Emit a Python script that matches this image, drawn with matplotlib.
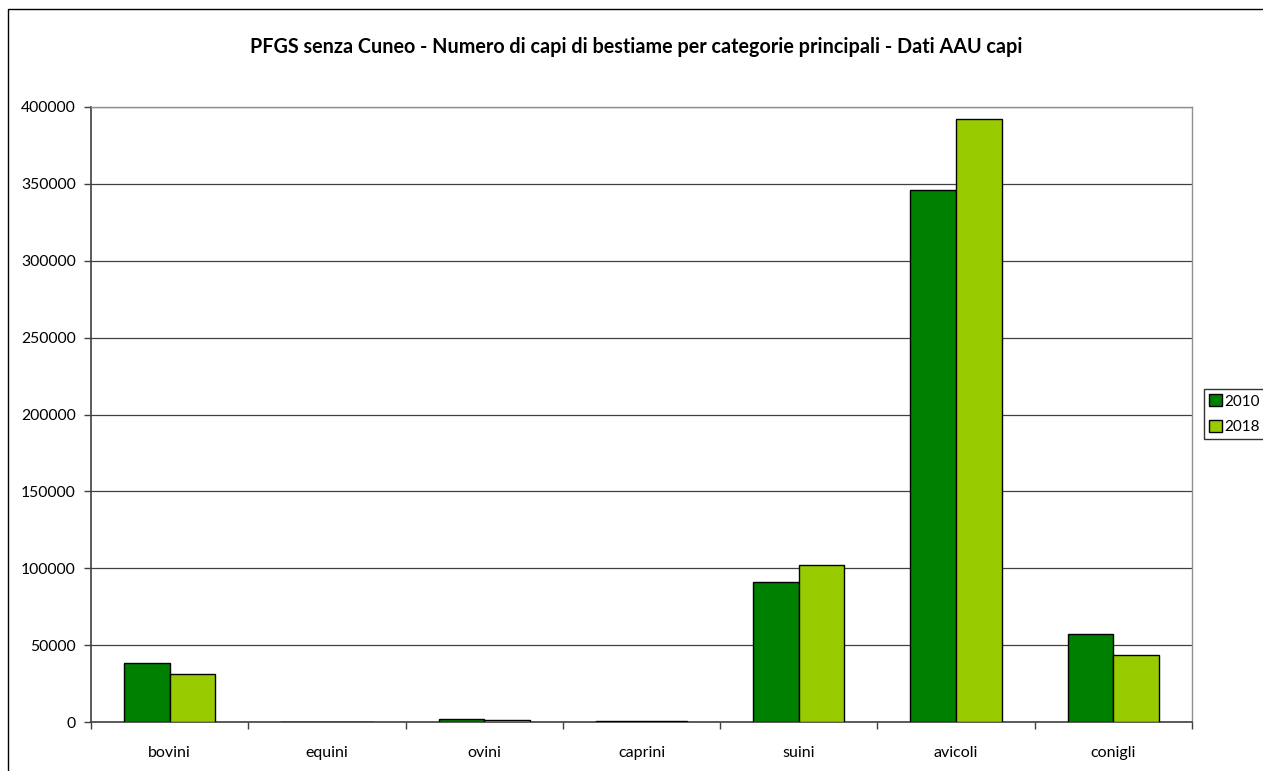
import matplotlib
matplotlib.use("Agg")
import matplotlib.pyplot as plt
import matplotlib.patches as mpatches
import numpy as np

categories = ["bovini", "equini", "ovini", "caprini", "suini", "avicoli", "conigli"]
series_names = ["2010", "2018"]
values_2010 = [38400, 200, 2000, 600, 91000, 346000, 57200]
values_2018 = [31300, 150, 1500, 500, 102000, 392000, 43500]
colors = ["#008000", "#99CC00"]
yticks = [0, 50000, 100000, 150000, 200000, 250000, 300000, 350000, 400000]
title = "PFGS senza Cuneo - Numero di capi di bestiame per categorie principali - Dati AAU capi"

plt.rcParams['font.family'] = ['Lato', 'DejaVu Sans']

W, H = 1263, 771
fig = plt.figure(figsize=(W / 100, H / 100), dpi=100)
ax = fig.add_axes([91 / W, 1 - 722 / H, (1192 - 91) / W, (722 - 107) / H])

x = np.arange(len(categories))
bw = 0.29
ax.bar(x - bw / 2, values_2010, bw, color=colors[0], edgecolor="black", linewidth=1, label=series_names[0], zorder=3)
ax.bar(x + bw / 2, values_2018, bw, color=colors[1], edgecolor="black", linewidth=1, label=series_names[1], zorder=3)

ax.set_xlim(-0.5, len(categories) - 0.5)
ax.set_ylim(0, 400000)
ax.set_yticks(yticks)
ax.set_yticklabels([str(v) for v in yticks], fontsize=11.3)
ax.set_xticks(x)
ax.set_xticklabels(categories, fontsize=11.5)
ax.set_xticks(np.arange(-0.5, len(categories), 1), minor=True)
ax.tick_params(axis="x", which="major", length=0, pad=17)
ax.tick_params(axis="x", which="minor", length=5, width=1, color="#404040", direction="out")
ax.tick_params(axis="y", length=5, width=1, color="#404040", direction="out", pad=6)
ax.yaxis.grid(True, color="#404040", linewidth=0.9, zorder=0)
for s in ["top", "right"]:
    ax.spines[s].set_color("#909090")
    ax.spines[s].set_linewidth(1)
ax.spines["left"].set_color("#404040")
ax.spines["bottom"].set_color("#404040")
ax.spines["left"].set_linewidth(1.2)
ax.spines["bottom"].set_linewidth(1.2)

fig.text(636 / W, 1 - 47 / H, title, ha="center", va="center", fontsize=14.2, fontweight="bold")

leg = fig.legend(loc="upper left", bbox_to_anchor=(1204 / W, 1 - 389 / H), fontsize=11,
                 frameon=True, fancybox=False, edgecolor="black", handlelength=0.8,
                 handleheight=0.8, handletextpad=0.2, borderpad=0.35, labelspacing=0.75,
                 borderaxespad=0)
leg.get_frame().set_linewidth(1)

frame = mpatches.Rectangle((8 / W, -0.05), 1.1, 1 - 9 / H + 0.05, transform=fig.transFigure,
                           fill=False, edgecolor="black", linewidth=1, clip_on=False)
fig.patches.append(frame)

fig.savefig("out.png", dpi=100)
